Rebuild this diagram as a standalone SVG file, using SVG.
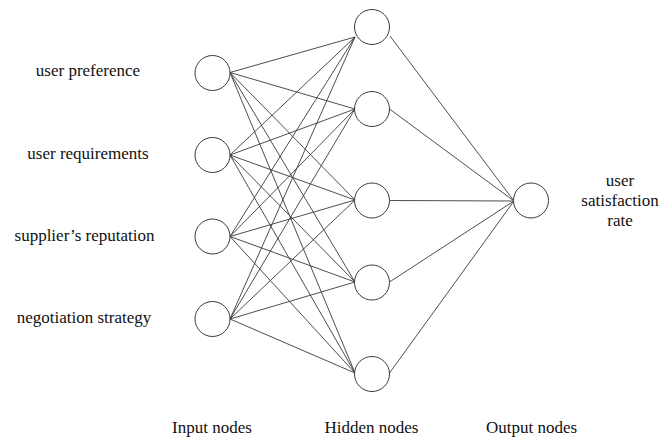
<svg xmlns="http://www.w3.org/2000/svg" width="662" height="446" viewBox="0 0 662 446" font-family="Liberation Serif, serif" font-size="17px">
<style>
  .node { fill: #ffffff; stroke: #3a3a3a; stroke-width: 1; }
  .edge { stroke: #3a3a3a; stroke-width: 0.9; fill: none; }
  text { font-family: "Liberation Serif", "Times New Roman", serif; font-size: 17px; fill: #111; text-anchor: middle; }
</style>
<rect width="662" height="446" fill="#ffffff"/>
<g id="connectors">
  <path class="edge" d="M230 72.5 L355 37 M230 72.5 L355 109 M230 72.5 L355 200 M230 72.5 L355 282 M230 72.5 L355 373"/>
  <path class="edge" d="M230 155 L355 37 M230 155 L355 109 M230 155 L355 200 M230 155 L355 282 M230 155 L355 373"/>
  <path class="edge" d="M230 236.5 L355 37 M230 236.5 L355 109 M230 236.5 L355 200 M230 236.5 L355 282 M230 236.5 L355 373"/>
  <path class="edge" d="M230 319 L355 37 M230 319 L355 109 M230 319 L355 200 M230 319 L355 282 M230 319 L355 373"/>
  <path class="edge" d="M390 36 L514 201 M389.5 109 L514 201 M389.5 200.5 L514 201 M389.5 282 L514 201 M389.5 373 L514 201"/>
</g>
<g id="input1"><circle class="node" cx="212.5" cy="73" r="17.5"/><text x="88" y="76">user preference</text></g>
<g id="input2"><circle class="node" cx="212.5" cy="155" r="17.5"/><text x="88" y="159">user requirements</text></g>
<g id="input3"><circle class="node" cx="212.5" cy="236.5" r="17.5"/><text x="84.5" y="241">supplier’s reputation</text></g>
<g id="input4"><circle class="node" cx="212.5" cy="319" r="17.5"/><text x="84" y="323">negotiation strategy</text></g>
<g id="hidden1"><circle class="node" cx="372" cy="27" r="17.5"/></g>
<g id="hidden2"><circle class="node" cx="372" cy="109" r="17.5"/></g>
<g id="hidden3"><circle class="node" cx="372" cy="200.5" r="17.5"/></g>
<g id="hidden4"><circle class="node" cx="372" cy="282.5" r="17.5"/></g>
<g id="hidden5"><circle class="node" cx="372" cy="374" r="17.5"/></g>
<g id="output1"><circle class="node" cx="531" cy="200.5" r="17.5"/>
  <text x="620" y="186">user</text>
  <text x="620" y="206">satisfaction</text>
  <text x="620" y="226">rate</text>
</g>
<g id="layer-labels">
  <text x="212" y="433">Input nodes</text>
  <text x="371.5" y="433">Hidden nodes</text>
  <text x="531.5" y="433">Output nodes</text>
</g>
</svg>
